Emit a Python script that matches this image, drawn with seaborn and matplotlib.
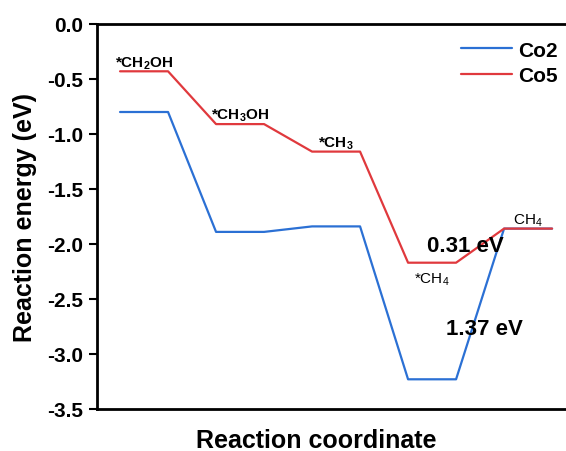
"""
Reaction energy diagram for CH2OH -> CH4 on Co2 and Co5.
"""

import matplotlib.pyplot as plt
import numpy as np
import pandas as pd
import seaborn as sns

# ------------------------------------------------------------------------------
# data
# ------------------------------------------------------------------------------

state_labels = ["*CH$_2$OH", "*CH$_3$OH", "*CH$_3$", "*CH$_4$", "CH$_4$"]
co2_energy = [-0.80, -1.89, -1.84, -3.23, -1.86]
co5_energy = [-0.43, -0.91, -1.16, -2.17, -1.86]
series_names = ["Co2", "Co5"]
series_colors = ["#2b70d4", "#e0393d"]
y_ticks = [-3.5, -3.0, -2.5, -2.0, -1.5, -1.0, -0.5, 0.0]

# ------------------------------------------------------------------------------
# style
# ------------------------------------------------------------------------------

sns.set_style("ticks")
plt.rcParams["font.family"] = ["Liberation Sans", "DejaVu Sans"]
plt.rcParams["mathtext.default"] = "regular"
plt.rcParams["axes.unicode_minus"] = False
for key in ["text.color", "axes.labelcolor", "axes.edgecolor",
            "xtick.color", "ytick.color", "legend.labelcolor"]:
    plt.rcParams[key] = "black"


def _step_path(name, energies):
    # each state is a flat level one unit wide, one unit gap between levels
    rows = []
    for i, e in enumerate(energies):
        for x in (2 * i, 2 * i + 1):
            rows.append({"series": name, "coord": x, "energy": e})
    return rows


rows = []
for name, energies in zip(series_names, [co2_energy, co5_energy]):
    rows += _step_path(name, energies)
df = pd.DataFrame(rows)

W, H = 566, 452
fig = plt.figure(figsize=(W / 100, H / 100), dpi=100)
ax = fig.add_axes([97 / W, 1 - 410 / H, 1 - 97 / W, 385 / H])

sns.lineplot(
    data=df,
    x="coord",
    y="energy",
    hue="series",
    palette=dict(zip(series_names, series_colors)),
    sort=False,
    estimator=None,
    linewidth=1.6,
    ax=ax,
)

ax.set_xlim(-0.48, 9.29)
ax.set_ylim(-3.5, 0.0)
ax.set_yticks(y_ticks)
ax.set_yticklabels([f"{t:.1f}" for t in y_ticks], fontsize=15, fontweight="bold")
ax.set_xticks([])

for side in ["left", "top", "bottom"]:
    ax.spines[side].set_linewidth(2)
    ax.spines[side].set_color("black")
ax.spines["right"].set_visible(False)
ax.tick_params(axis="y", direction="out", length=6, width=1.5, pad=4, colors="black")

ax.set_xlabel("Reaction coordinate", fontsize=18, fontweight="bold")
ax.set_ylabel("Reaction energy (eV)", fontsize=18, fontweight="bold")
ax.xaxis.set_label_coords(0.468, -0.08)
ax.xaxis.label.set_va("center")
ax.yaxis.set_label_coords(-0.1535, 0.5)
ax.yaxis.label.set_va("center")

# species labels on the Co5 path
for i, (lab, e) in enumerate(zip(state_labels, co5_energy)):
    below = i == 3
    ax.annotate(
        lab,
        xy=(2 * i + 0.5, e),
        xytext=(0, -6 if below else 3.6),
        textcoords="offset points",
        ha="center",
        va="top" if below else "baseline",
        fontsize=11,
        fontweight="normal" if i >= 3 else "bold",
        color="black",
    )

# final step barriers
co2_barrier = co2_energy[4] - co2_energy[3]
co5_barrier = co5_energy[4] - co5_energy[3]
ax.text(7.6, -2.77, f"{co2_barrier:.2f} eV", ha="center", va="center",
        fontsize=16, fontweight="bold", color="black")
ax.text(7.2, -2.01, f"{co5_barrier:.2f} eV", ha="center", va="center",
        fontsize=16, fontweight="bold", color="black")

sns.move_legend(
    ax,
    "upper left",
    bbox_to_anchor=(0.776, 0.957),
    title=None,
    frameon=False,
    prop={"size": 15, "weight": "bold"},
    handlelength=2.45,
    handletextpad=0.3,
    labelspacing=0.3,
    borderpad=0,
    borderaxespad=0,
)

fig.savefig("out.png", dpi=100)
